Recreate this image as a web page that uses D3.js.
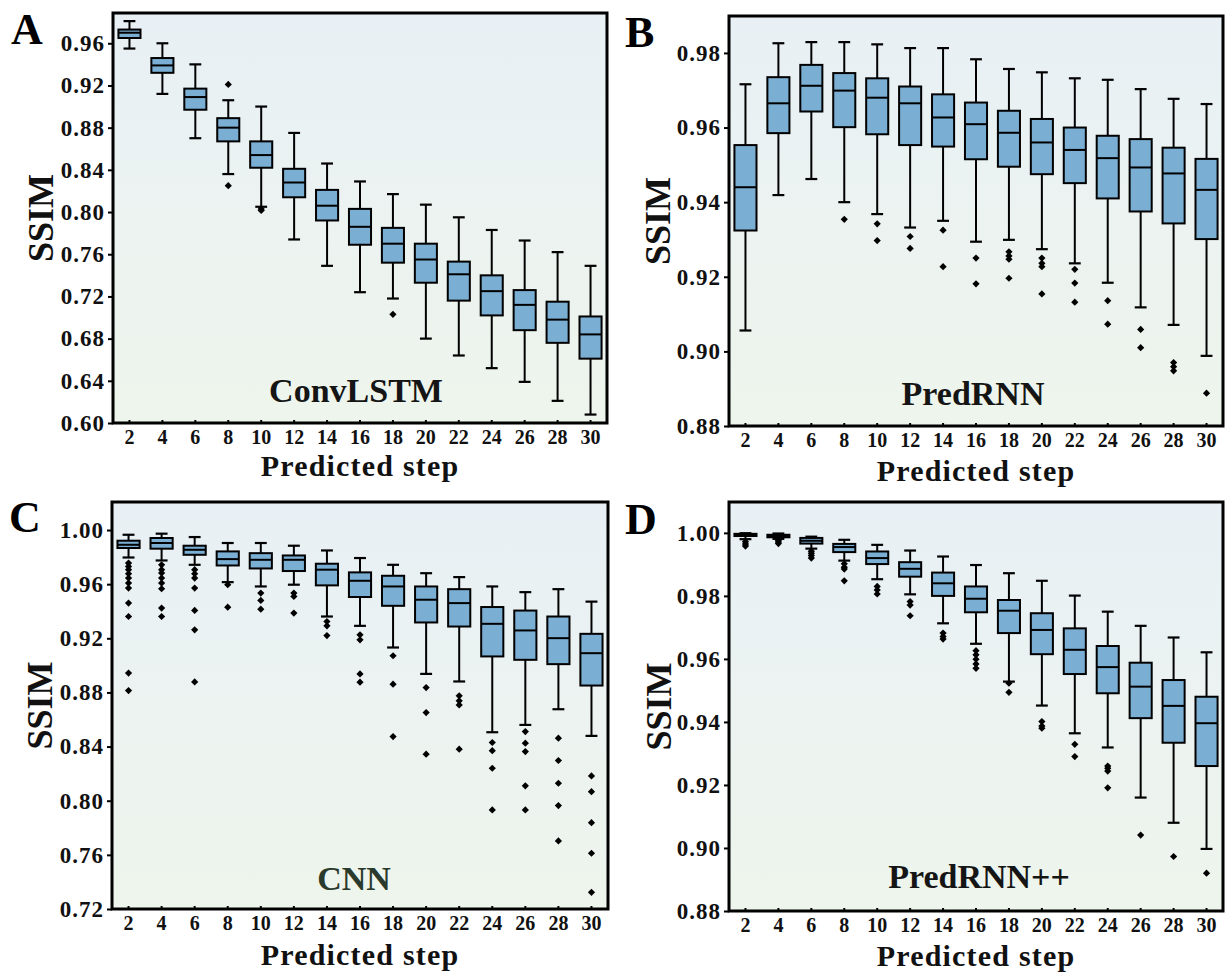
<!DOCTYPE html>
<html>
<head>
<meta charset="utf-8">
<script src="https://cdn.jsdelivr.net/npm/d3@7"></script>
<style>
  html, body { margin: 0; padding: 0; background: #ffffff; }
  svg { display: block; }
  text { font-family: "Liberation Serif", "Times New Roman", serif; font-weight: bold; }
</style>
</head>
<body>
<svg id="chart" width="1227" height="974"></svg>
<script>
// ---------------- DATA ----------------
const steps = [2, 4, 6, 8, 10, 12, 14, 16, 18, 20, 22, 24, 26, 28, 30];

// Panel A: ConvLSTM
const convlstmHigh   = [0.981, 0.960, 0.940, 0.906, 0.900, 0.875, 0.846, 0.829, 0.817, 0.807, 0.795, 0.783, 0.773, 0.762, 0.749];
const convlstmQ3     = [0.973, 0.946, 0.917, 0.889, 0.867, 0.841, 0.821, 0.803, 0.785, 0.770, 0.753, 0.740, 0.726, 0.715, 0.701];
const convlstmMedian = [0.970, 0.939, 0.909, 0.880, 0.854, 0.828, 0.806, 0.786, 0.770, 0.755, 0.741, 0.725, 0.712, 0.698, 0.684];
const convlstmQ1     = [0.965, 0.932, 0.897, 0.867, 0.842, 0.814, 0.792, 0.769, 0.752, 0.733, 0.716, 0.702, 0.688, 0.676, 0.661];
const convlstmLow    = [0.955, 0.912, 0.870, 0.836, 0.805, 0.774, 0.749, 0.724, 0.718, 0.680, 0.664, 0.652, 0.639, 0.621, 0.608];
const convlstmOutliers = [[], [], [], [0.921, 0.825], [0.803, 0.8015], [], [], [], [0.703], [], [], [], [], [], []];

// Panel B: PredRNN
const predrnnHigh   = [0.9716, 0.9826, 0.9829, 0.9829, 0.9823, 0.9813, 0.9813, 0.9783, 0.9757, 0.9748, 0.9732, 0.9728, 0.9703, 0.9677, 0.9663];
const predrnnQ3     = [0.9553, 0.9735, 0.9768, 0.9746, 0.9732, 0.9710, 0.9689, 0.9667, 0.9645, 0.9623, 0.9600, 0.9578, 0.9569, 0.9546, 0.9516];
const predrnnMedian = [0.9440, 0.9665, 0.9712, 0.9699, 0.9680, 0.9665, 0.9627, 0.9609, 0.9586, 0.9560, 0.9540, 0.9518, 0.9493, 0.9477, 0.9433];
const predrnnQ1     = [0.9324, 0.9585, 0.9643, 0.9601, 0.9582, 0.9553, 0.9549, 0.9515, 0.9495, 0.9475, 0.9451, 0.9410, 0.9375, 0.9343, 0.9301];
const predrnnLow    = [0.9056, 0.9419, 0.9462, 0.9400, 0.9368, 0.9332, 0.9350, 0.9294, 0.9299, 0.9274, 0.9236, 0.9184, 0.9118, 0.9071, 0.8988];
const predrnnOutliers = [[], [], [], [0.9354], [0.9342, 0.9297], [0.9308, 0.9276], [0.9325, 0.9227],
  [0.9250, 0.9181], [0.9267, 0.9256, 0.9247, 0.9196], [0.9250, 0.9236, 0.9227, 0.9154],
  [0.9220, 0.9183, 0.9132], [0.9136, 0.9073], [0.9059, 0.9010], [0.8970, 0.8959, 0.8948], [0.8888]];

// Panel C: CNN
const cnnHigh   = [0.9965, 0.9973, 0.9948, 0.9904, 0.9904, 0.9884, 0.9849, 0.9793, 0.9743, 0.9681, 0.9652, 0.9583, 0.9541, 0.9563, 0.9471];
const cnnQ3     = [0.9921, 0.9941, 0.9884, 0.9842, 0.9829, 0.9812, 0.9751, 0.9687, 0.9662, 0.9583, 0.9563, 0.9431, 0.9405, 0.9361, 0.9233];
const cnnMedian = [0.9891, 0.9904, 0.9854, 0.9785, 0.9780, 0.9780, 0.9707, 0.9625, 0.9583, 0.9485, 0.9460, 0.9307, 0.9258, 0.9201, 0.9090];
const cnnQ1     = [0.9867, 0.9862, 0.9817, 0.9738, 0.9716, 0.9697, 0.9591, 0.9505, 0.9440, 0.9317, 0.9287, 0.9066, 0.9041, 0.9009, 0.8851];
const cnnLow    = [0.9797, 0.9775, 0.9743, 0.9615, 0.9583, 0.9596, 0.9361, 0.9292, 0.9132, 0.8937, 0.8881, 0.8506, 0.8560, 0.8676, 0.8479];
const cnnOutliers = [
  [0.9756, 0.9731, 0.9707, 0.9677, 0.9645, 0.9608, 0.9571, 0.9460, 0.9361, 0.8943, 0.8814],
  [0.9743, 0.9707, 0.9682, 0.9645, 0.9608, 0.9566, 0.9423, 0.9361],
  [0.9707, 0.9677, 0.9645, 0.9571, 0.9406, 0.9263, 0.8878],
  [0.9596, 0.9430],
  [0.9534, 0.9480, 0.9415],
  [0.9534, 0.9509, 0.9386],
  [0.9324, 0.9292, 0.9220],
  [0.9226, 0.9189, 0.8937, 0.8876],
  [0.9071, 0.8861, 0.8474],
  [0.8836, 0.8651, 0.8344],
  [0.8775, 0.8738, 0.8708, 0.8381],
  [0.8430, 0.8370, 0.8240, 0.7932],
  [0.8511, 0.8425, 0.8363, 0.8110, 0.7932],
  [0.8462, 0.8297, 0.8129, 0.7964, 0.7703],
  [0.8183, 0.8067, 0.7838, 0.7612, 0.7323]];

// Panel D: PredRNN++
const predrnnppHigh   = [0.9999, 0.9998, 0.9988, 0.9978, 0.9962, 0.9944, 0.9925, 0.9898, 0.9872, 0.9848, 0.9801, 0.9750, 0.9705, 0.9668, 0.9621];
const predrnnppQ3     = [0.9997, 0.9994, 0.9984, 0.9965, 0.9941, 0.9907, 0.9874, 0.9830, 0.9787, 0.9745, 0.9697, 0.9641, 0.9588, 0.9533, 0.9480];
const predrnnppMedian = [0.9994, 0.9990, 0.9975, 0.9955, 0.9920, 0.9886, 0.9840, 0.9791, 0.9753, 0.9692, 0.9629, 0.9574, 0.9512, 0.9451, 0.9396];
const predrnnppQ1     = [0.9990, 0.9986, 0.9966, 0.9939, 0.9901, 0.9861, 0.9800, 0.9748, 0.9682, 0.9615, 0.9552, 0.9491, 0.9412, 0.9334, 0.9260];
const predrnnppLow    = [0.9980, 0.9981, 0.9950, 0.9912, 0.9853, 0.9805, 0.9713, 0.9648, 0.9528, 0.9452, 0.9364, 0.9319, 0.9160, 0.9080, 0.8997];
const predrnnppOutliers = [[0.9972, 0.9965, 0.9958], [0.9976, 0.9971, 0.9966], [0.9942, 0.9935, 0.9928, 0.9920],
  [0.9902, 0.9891, 0.9885, 0.9848], [0.9830, 0.9819, 0.9806], [0.9782, 0.9771, 0.9737],
  [0.9682, 0.9671, 0.9663], [0.9626, 0.9613, 0.9599, 0.9584, 0.9570], [0.9523, 0.9494],
  [0.9401, 0.9387, 0.9380], [0.9329, 0.9290], [0.9260, 0.9253, 0.9244, 0.9191], [0.9041], [0.8973], [0.8920]];

// tick labels
const ticksA = [0.60, 0.64, 0.68, 0.72, 0.76, 0.80, 0.84, 0.88, 0.92, 0.96];
const ticksB = [0.88, 0.90, 0.92, 0.94, 0.96, 0.98];
const ticksC = [0.72, 0.76, 0.80, 0.84, 0.88, 0.92, 0.96, 1.00];
const ticksD = [0.88, 0.90, 0.92, 0.94, 0.96, 0.98, 1.00];
const panelLetters = ["A", "B", "C", "D"];
const modelNames = ["ConvLSTM", "PredRNN", "CNN", "PredRNN++"];
const xTitle = "Predicted step";
const yTitle = "SSIM";

// ---------------- LAYOUT ----------------
const panels = [
  { letter: panelLetters[0], name: modelNames[0], ticks: ticksA, domain: [0.60, 0.9887],
    hi: convlstmHigh, q3: convlstmQ3, med: convlstmMedian, q1: convlstmQ1, lo: convlstmLow, out: convlstmOutliers,
    box: { l: 113, r: 607, t: 13, b: 423 }, letterPos: [11, 44], nameX: 356, nameY: 402, nameColor: "#151515",
    ssimX: 53, xTitleY: 476 },
  { letter: panelLetters[1], name: modelNames[1], ticks: ticksB, domain: [0.88, 0.9899],
    hi: predrnnHigh, q3: predrnnQ3, med: predrnnMedian, q1: predrnnQ1, lo: predrnnLow, out: predrnnOutliers,
    box: { l: 729, r: 1223, t: 16, b: 426 }, letterPos: [625, 47], nameX: 973, nameY: 405, nameColor: "#151515",
    ssimX: 670, xTitleY: 481 },
  { letter: panelLetters[2], name: modelNames[2], ticks: ticksC, domain: [0.72, 1.0207],
    hi: cnnHigh, q3: cnnQ3, med: cnnMedian, q1: cnnQ1, lo: cnnLow, out: cnnOutliers,
    box: { l: 112, r: 608, t: 502, b: 909 }, letterPos: [9, 532], nameX: 354, nameY: 890, nameColor: "#2a3a2c",
    ssimX: 52, xTitleY: 965 },
  { letter: panelLetters[3], name: modelNames[3], ticks: ticksD, domain: [0.88, 1.0098],
    hi: predrnnppHigh, q3: predrnnppQ3, med: predrnnppMedian, q1: predrnnppQ1, lo: predrnnppLow, out: predrnnppOutliers,
    box: { l: 729, r: 1223, t: 502, b: 911 }, letterPos: [625, 534], nameX: 979, nameY: 888, nameColor: "#151515",
    ssimX: 671, xTitleY: 966 }
];

const svg = d3.select("#chart");
const defs = svg.append("defs");
const grad = defs.append("linearGradient").attr("id", "bg").attr("x1", 0).attr("y1", 0).attr("x2", 0).attr("y2", 1);
grad.append("stop").attr("offset", "0%").attr("stop-color", "#e9f0f5");
grad.append("stop").attr("offset", "100%").attr("stop-color", "#eef5ec");

const boxFill = "#7aaed3";
const diamond = d3.symbol().type(d3.symbolSquare).size(26);

panels.forEach(p => {
  const g = svg.append("g");
  const B = p.box;
  const x = d3.scaleBand().domain(steps).range([B.l, B.r]).padding(0);
  const y = d3.scaleLinear().domain(p.domain).range([B.b, B.t]);
  const bw = x.bandwidth() * 0.67;
  const cw = x.bandwidth() * 0.36;

  // background
  g.append("rect").attr("x", B.l).attr("y", B.t).attr("width", B.r - B.l).attr("height", B.b - B.t)
    .attr("fill", "url(#bg)");

  const data = steps.map((s, i) => ({ s, hi: p.hi[i], q3: p.q3[i], med: p.med[i], q1: p.q1[i], lo: p.lo[i], out: p.out[i] }));
  const bg = g.append("g").selectAll("g").data(data).join("g")
    .attr("transform", d => `translate(${x(d.s) + x.bandwidth() / 2},0)`);

  // whiskers
  bg.append("line").attr("x1", 0).attr("x2", 0).attr("y1", d => y(d.hi)).attr("y2", d => y(d.lo))
    .attr("stroke", "#000").attr("stroke-width", 2);
  bg.append("line").attr("x1", -cw / 2).attr("x2", cw / 2).attr("y1", d => y(d.hi)).attr("y2", d => y(d.hi))
    .attr("stroke", "#000").attr("stroke-width", 2.2);
  bg.append("line").attr("x1", -cw / 2).attr("x2", cw / 2).attr("y1", d => y(d.lo)).attr("y2", d => y(d.lo))
    .attr("stroke", "#000").attr("stroke-width", 2.2);
  // box
  bg.append("rect").attr("x", -bw / 2).attr("width", bw)
    .attr("y", d => y(d.q3)).attr("height", d => Math.max(0.5, y(d.q1) - y(d.q3)))
    .attr("fill", boxFill).attr("stroke", "#000").attr("stroke-width", 2);
  bg.append("line").attr("x1", -bw / 2).attr("x2", bw / 2).attr("y1", d => y(d.med)).attr("y2", d => y(d.med))
    .attr("stroke", "#000").attr("stroke-width", 2);
  // outliers
  bg.selectAll("path.out").data(d => d.out).join("path").attr("class", "out")
    .attr("d", diamond)
    .attr("transform", v => `translate(0,${y(v)}) rotate(45)`)
    .attr("fill", "#000");

  // axes
  const ya = g.append("g").attr("transform", `translate(${B.l},0)`)
    .call(d3.axisLeft(y).tickValues(p.ticks).tickFormat(d3.format(".2f")).tickSizeInner(5).tickSizeOuter(0).tickPadding(3));
  ya.select(".domain").remove();
  ya.selectAll(".tick line").attr("stroke", "#000").attr("stroke-width", 2);
  ya.selectAll(".tick text").attr("font-size", 23).attr("fill", "#111").attr("letter-spacing", "1px")
    .attr("font-family", "'Liberation Serif', serif").attr("font-weight", "bold");

  const xa = g.append("g").attr("transform", `translate(0,${B.b})`)
    .call(d3.axisBottom(x).tickSizeInner(-3).tickSizeOuter(0).tickPadding(7));
  xa.select(".domain").remove();
  xa.selectAll(".tick line").attr("stroke", "#000").attr("stroke-width", 2);
  xa.selectAll(".tick text").attr("font-size", 20).attr("fill", "#111")
    .attr("font-family", "'Liberation Serif', serif").attr("font-weight", "bold");

  // frame
  g.append("rect").attr("x", B.l).attr("y", B.t).attr("width", B.r - B.l).attr("height", B.b - B.t)
    .attr("fill", "none").attr("stroke", "#000").attr("stroke-width", 3);

  // model name
  g.append("text").attr("x", p.nameX).attr("y", p.nameY).attr("text-anchor", "middle")
    .attr("font-size", 34).attr("fill", p.nameColor).text(p.name);

  // titles
  g.append("text").attr("x", (B.l + B.r) / 2).attr("y", p.xTitleY).attr("text-anchor", "middle")
    .attr("font-size", 30).attr("letter-spacing", "1.2px").attr("fill", "#111").text(xTitle);
  g.append("text").attr("transform", `translate(${p.ssimX},${(B.t + B.b) / 2}) rotate(-90)`)
    .attr("text-anchor", "middle").attr("font-size", 36).attr("fill", "#111").text(yTitle);

  // panel letter
  g.append("text").attr("x", p.letterPos[0]).attr("y", p.letterPos[1])
    .attr("font-size", 44).attr("fill", "#000").text(p.letter);
});
</script>
</body>
</html>
